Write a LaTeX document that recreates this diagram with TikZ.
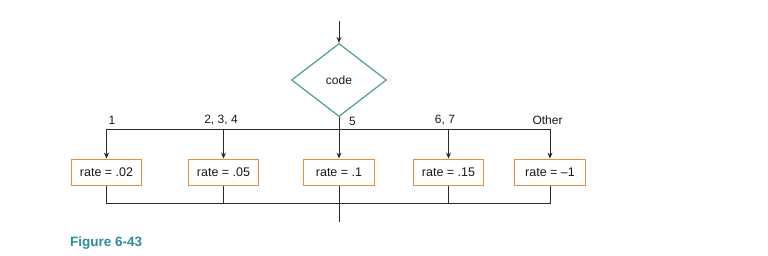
\documentclass[tikz,border=0pt]{standalone}
\usepackage{fontspec}
\setmainfont{Liberation Sans}
\usetikzlibrary{shapes.geometric,arrows.meta}
\definecolor{teal1}{HTML}{4A9C98}
\definecolor{orng}{HTML}{E89040}
\definecolor{figc}{HTML}{2A8C9C}
\definecolor{ln}{HTML}{2A2A2A}
\tikzset{
  ratebox/.style={draw=orng, line width=1.3pt, minimum width=70.5pt, minimum height=26.5pt, inner sep=0pt, font=\fontsize{12.5}{14}\selectfont, text=black!90},
  dec/.style={draw=teal1, line width=1.2pt, diamond, minimum width=95pt, minimum height=73pt, inner sep=0pt, font=\fontsize{12}{14}\selectfont, text=black!90},
  conn/.style={draw=ln, line width=1pt},
  arr/.style={conn, -{Stealth[length=6pt,width=5pt]}},
  lbl/.style={font=\fontsize{12}{14}\selectfont, inner sep=0pt, text=black!90},
}
\begin{document}
\begin{tikzpicture}[x=1pt,y=-1pt]
\useasboundingbox (0,0) rectangle (768,256);
\coordinate (start) at (339,21.5);
\node[dec] (code) at (339,80) {code};
\node[ratebox] (b1) at (106.5,172.5) {rate = .02};
\node[ratebox] (b2) at (223.5,172.5) {rate = .05};
\node[ratebox] (b3) at (339,172.5) {rate = .1};
\node[ratebox] (b4) at (448.5,172.5) {rate = .15};
\node[ratebox] (b5) at (550,172.5) {rate = –1};
\coordinate (hl) at (0,129.3);
\coordinate (bl) at (0,204);
\coordinate (stop) at (339,222);
\draw[arr] (start) -- (code.north);
\draw[conn] (b1.north |- hl) -- (b5.north |- hl);
\draw[arr] (code.south) -- (b3.north);
\foreach \b in {b1,b2,b4,b5} \draw[arr] (\b.north |- hl) -- (\b.north);
\draw[conn] (b1.south) -- (b1.south |- bl) -- (b5.south |- bl) -- (b5.south);
\foreach \b in {b2,b4} \draw[conn] (\b.south) -- (\b.south |- bl);
\draw[conn] (b3.south) -- (stop);
\node[lbl] (l1) at (112,120) {1};
\node[lbl] (l2) at (221,120) {2, 3, 4};
\node[lbl] (l5) at (352.5,121) {5};
\node[lbl] (l6) at (445,120) {6, 7};
\node[lbl] (l7) at (547.5,120) {Other};
\node[font=\fontsize{13.5}{15}\bfseries, text=figc, anchor=west, inner sep=0pt] (fig) at (70,243) {Figure 6-43};
\end{tikzpicture}
\end{document}
